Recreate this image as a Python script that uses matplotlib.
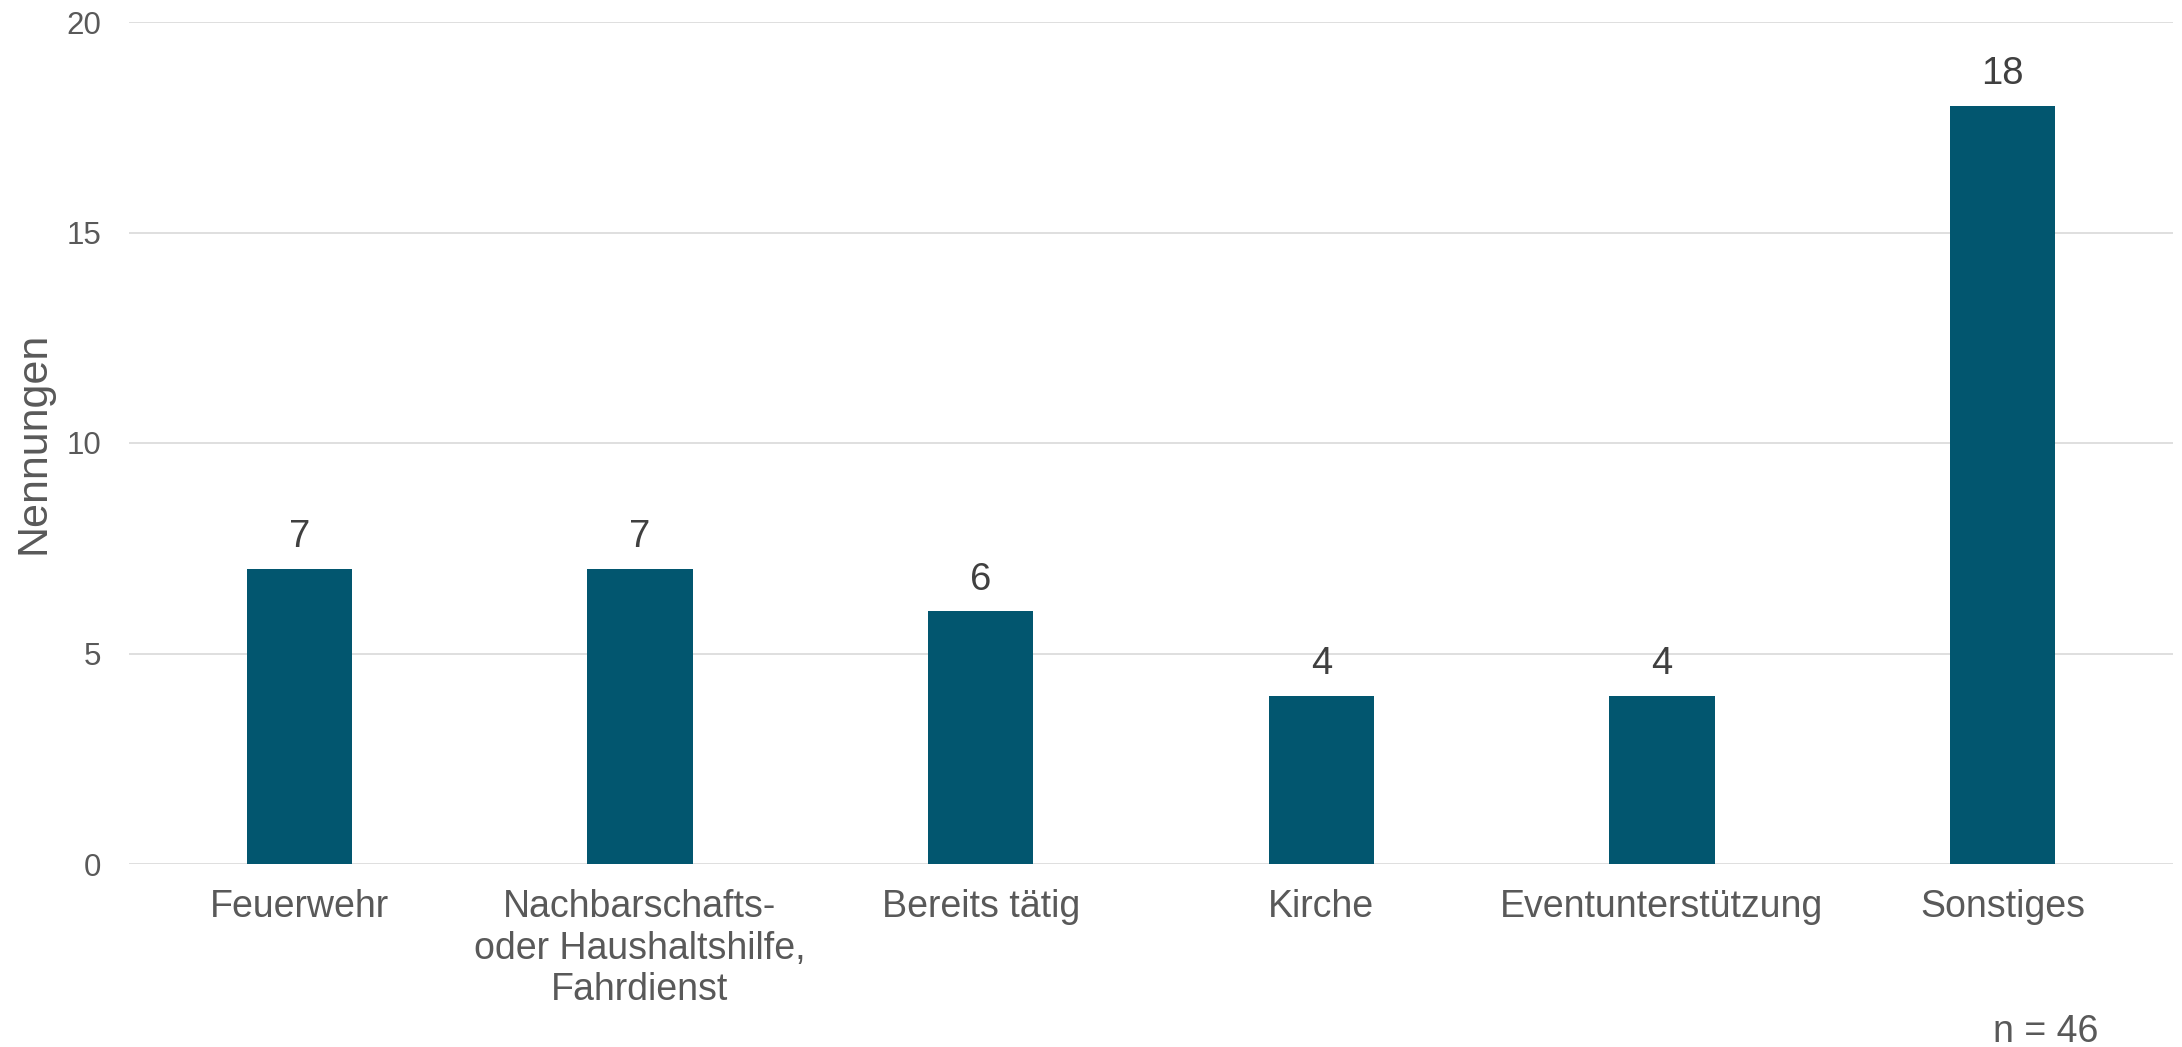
import matplotlib
matplotlib.use("Agg")
import matplotlib.pyplot as plt

plt.rcParams["font.family"] = ["Liberation Sans", "DejaVu Sans"]

kategorien = [
    "Feuerwehr",
    "Nachbarschafts-\noder Haushaltshilfe,\nFahrdienst",
    "Bereits tätig",
    "Kirche",
    "Eventunterstützung",
    "Sonstiges",
]
nennungen = [7, 7, 6, 4, 4, 18]
y_ticks = [0, 5, 10, 15, 20]
n_gesamt = 46

BALKEN = "#02566F"
GRID = "#D9D9D9"
TEXT = "#595959"

fig = plt.figure(figsize=(21.82, 10.47), dpi=100)
ax = fig.add_axes([129 / 2182, 1 - 864 / 1047, (2173 - 129) / 2182, (864 - 22) / 1047])

x = range(len(kategorien))
bars = ax.bar(x, nennungen, width=0.31, color=BALKEN, zorder=3)

# Werte über den Balken
for b, v in zip(bars, nennungen):
    ax.annotate(
        str(v),
        (b.get_x() + b.get_width() / 2, v),
        xytext=(0, 10),
        textcoords="offset points",
        ha="center",
        va="bottom",
        fontsize=27.5,
        color="#404040",
    )

ax.set_xlim(-0.5, len(kategorien) - 0.5)
ax.set_ylim(0, 20)
ax.set_yticks(y_ticks)
ax.set_xticks(list(x))
ax.set_xticklabels(kategorien, fontsize=27, color=TEXT, linespacing=1.2)
ax.tick_params(axis="y", labelsize=22.5, labelcolor=TEXT, length=0, pad=20)
ax.tick_params(axis="x", length=0, pad=18)

ax.grid(axis="y", color=GRID, linewidth=1.2, zorder=0)
for s in ax.spines.values():
    s.set_visible(False)

ax.set_ylabel("Nennungen", fontsize=31, color=TEXT, labelpad=9)

fig.text(2098 / 2182, 1 - 1042 / 1047, f"n = {n_gesamt}", fontsize=27,
         color=TEXT, ha="right", va="baseline")

fig.savefig("out.png", dpi=100, facecolor="white")
